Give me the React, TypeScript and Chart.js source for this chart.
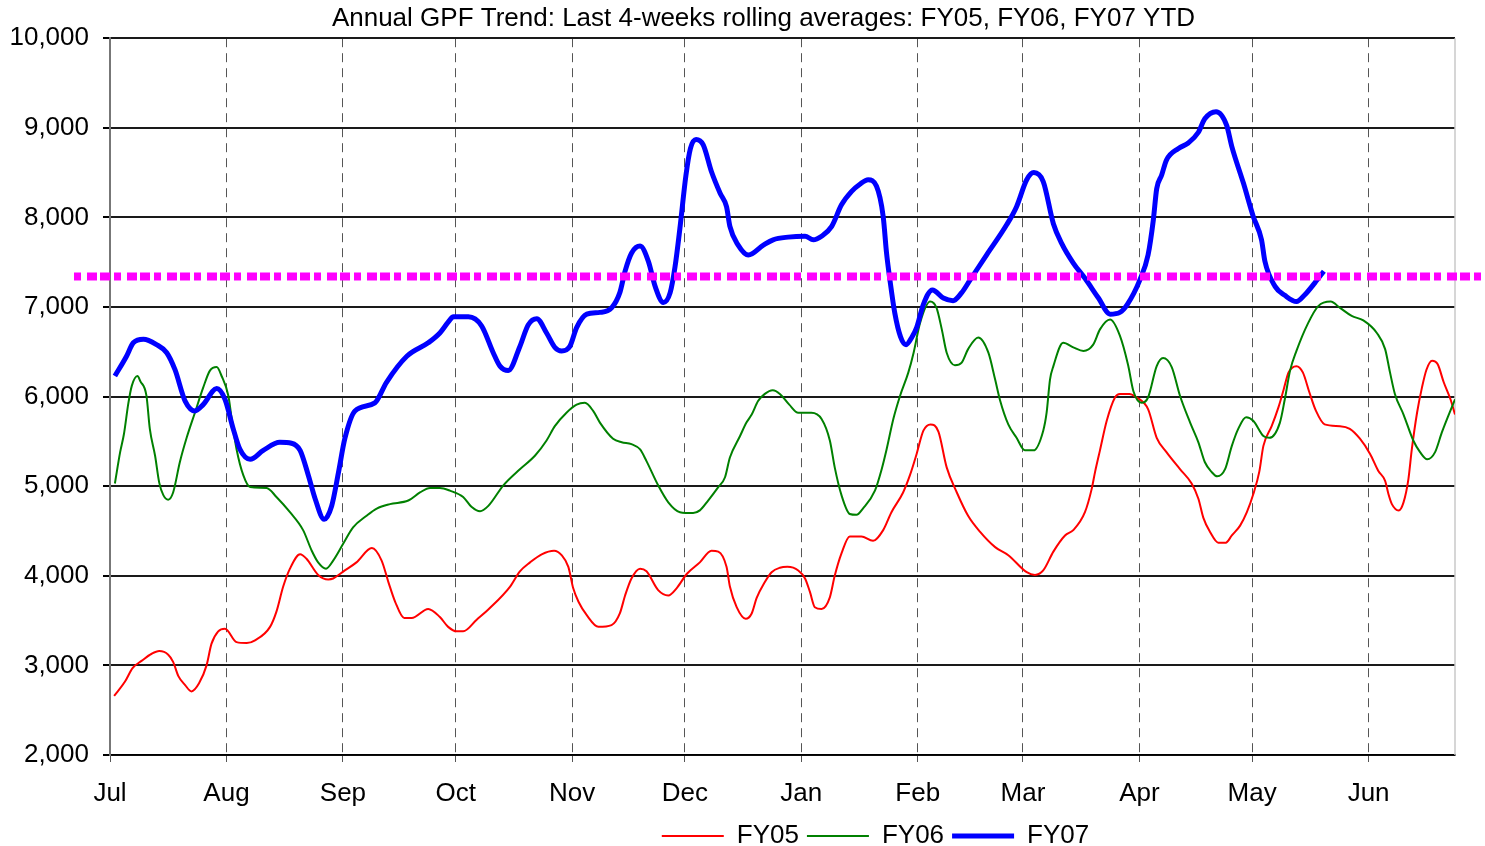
import { useEffect, useRef } from "react";
import { Chart, registerables } from "chart.js";

Chart.register(...registerables);

const chartTitle = "Annual GPF Trend: Last 4-weeks rolling averages: FY05, FY06, FY07 YTD";
const monthLabels = ["Jul", "Aug", "Sep", "Oct", "Nov", "Dec", "Jan", "Feb", "Mar", "Apr", "May", "Jun"];
const monthStartDays = [0, 31, 62, 92, 123, 153, 184, 215, 243, 274, 304, 335];
const lastDay = 358;
const targetLevel = 7340;

const fy05Days = [1.1, 4, 6, 8.4, 11.1, 13.1, 15.5, 16.8, 18.2, 20, 21.7, 23.7, 25.7, 27, 28.8, 30.6, 33.7, 36.4, 38.6, 42.6, 44.3, 46.1, 47.9, 50.6, 52.3, 55.4, 58.1, 59.4, 62.5, 65.6, 69.7, 72.3, 74.1, 75.9, 78.3, 80.3, 84.7, 87.8, 90, 92.3, 94, 97.6, 101.1, 106.5, 109.1, 111.8, 114.9, 118.2, 120.2, 122, 123.3, 124.7, 126.9, 130, 133.5, 135.7, 137.1, 138.8, 141.1, 142.8, 145.9, 148.6, 150.8, 153.5, 157, 160.1, 161.9, 164.1, 165, 166.8, 169.2, 170.8, 172.1, 174.3, 176.1, 178.3, 180.3, 183.2, 185, 186.3, 187.6, 189.4, 191.6, 192.9, 194.7, 196.9, 200, 203.1, 205.8, 208, 211.1, 212.9, 214.7, 216.5, 218.4, 220.5, 222.7, 225.4, 228.4, 231.6, 235.6, 239.1, 244, 246.2, 248.4, 251.1, 254.2, 256.4, 259.5, 261.3, 262.2, 263.5, 265.3, 267.5, 268.8, 271.3, 273.3, 276.3, 278.6, 281.2, 284.8, 287.9, 289.7, 291, 292.8, 295, 297, 298.6, 300.8, 302.6, 304.3, 305.9, 307, 309.2, 311, 312.4, 313.7, 315.8, 317.5, 319.3, 321, 323.3, 327.4, 330, 332.7, 335.4, 337.6, 339.4, 340.3, 341.2, 343, 344.3, 345.6, 346.5, 347.9, 349.2, 350.4, 351.9, 353.4, 355, 356.8, 358];
const fy05Values = [2660, 2820, 2970, 3050, 3130, 3160, 3120, 3040, 2880, 2780, 2710, 2800, 3000, 3240, 3380, 3410, 3260, 3250, 3280, 3430, 3600, 3880, 4080, 4240, 4190, 4010, 3960, 3970, 4060, 4150, 4310, 4170, 3930, 3710, 3530, 3530, 3630, 3540, 3430, 3380, 3380, 3510, 3640, 3880, 4050, 4150, 4240, 4280, 4230, 4100, 3860, 3710, 3560, 3430, 3450, 3580, 3780, 3970, 4080, 4050, 3840, 3780, 3860, 4020, 4150, 4280, 4270, 4100, 3880, 3650, 3520, 3580, 3750, 3930, 4040, 4090, 4100, 4060, 3970, 3820, 3650, 3630, 3760, 4000, 4250, 4440, 4440, 4390, 4510, 4710, 4930, 5120, 5360, 5620, 5690, 5610, 5210, 4930, 4670, 4490, 4320, 4230, 4040, 4010, 4060, 4270, 4450, 4510, 4710, 4970, 5160, 5400, 5730, 5990, 6030, 6030, 5990, 5860, 5540, 5380, 5190, 5030, 4860, 4650, 4490, 4370, 4370, 4450, 4560, 4710, 4910, 5160, 5450, 5670, 5880, 6080, 6270, 6340, 6270, 6040, 5840, 5690, 5670, 5640, 5530, 5360, 5170, 5060, 4910, 4800, 4730, 4820, 5080, 5410, 5820, 6100, 6300, 6400, 6360, 6160, 5970, 5800];

const fy06Days = [1.3, 2.7, 3.7, 4.9, 5.8, 7.3, 8.1, 9.7, 10.6, 12, 13.1, 14.2, 15.5, 16.8, 18.6, 20.4, 22.6, 24.8, 26.6, 28.4, 29.7, 31.5, 32.4, 33.7, 35.5, 37.3, 41.7, 44.3, 47.9, 51.4, 53.7, 55.4, 57.5, 59.4, 62.1, 64.7, 68.3, 71, 74.5, 79.4, 82.5, 85.2, 87.8, 90.5, 94, 96.2, 98.5, 100.7, 104.7, 109.1, 113.1, 116.2, 118.4, 121.5, 124.2, 126.4, 128.6, 130.4, 133.9, 136.2, 138.8, 141.1, 142.8, 145.9, 148.6, 151.7, 155.2, 157, 159.2, 161.9, 163.7, 165, 167.7, 169.4, 170.8, 172.5, 174.3, 176.4, 178.3, 180.8, 183.2, 186.7, 189.4, 191.6, 192.9, 194.7, 196.9, 198.7, 200.4, 203.6, 205.4, 206.7, 208.5, 210.3, 212.5, 213.9, 215.6, 218.3, 220, 221.4, 222.7, 224.9, 226.7, 228.4, 231.1, 233.8, 235.6, 236.9, 239.1, 241.3, 243.5, 245.8, 248.4, 249.3, 250.2, 251.1, 253.7, 256.4, 259.1, 261.7, 263.5, 266.2, 268.8, 271, 272.4, 274.6, 276.3, 278.6, 280.3, 282.6, 284.8, 287.5, 289.7, 291.4, 293.2, 294.7, 296.8, 298.6, 300.3, 302.4, 304.3, 307, 308.6, 311.4, 312.7, 314.1, 315.8, 318.9, 321.6, 324.9, 327.4, 330.5, 333.6, 337.2, 339.4, 340.7, 342, 344.3, 346.9, 348.7, 350.6, 352.7, 354.5, 358];
const fy06Values = [5030, 5380, 5580, 5930, 6120, 6230, 6170, 6010, 5640, 5340, 5040, 4900, 4850, 4930, 5270, 5540, 5820, 6100, 6290, 6330, 6230, 6010, 5750, 5410, 5120, 4990, 4980, 4880, 4710, 4510, 4280, 4150, 4080, 4170, 4360, 4540, 4670, 4750, 4800, 4840, 4930, 4980, 4980, 4950, 4880, 4770, 4720, 4780, 5010, 5190, 5340, 5510, 5670, 5820, 5910, 5930, 5840, 5710, 5530, 5490, 5470, 5410, 5280, 5010, 4820, 4710, 4700, 4730, 4840, 4990, 5100, 5320, 5560, 5710, 5800, 5950, 6030, 6070, 6030, 5910, 5820, 5820, 5750, 5510, 5210, 4900, 4690, 4680, 4750, 4950, 5190, 5410, 5750, 6010, 6270, 6490, 6820, 7060, 6990, 6750, 6490, 6350, 6380, 6530, 6660, 6490, 6190, 5960, 5690, 5540, 5400, 5400, 5620, 5820, 6190, 6340, 6600, 6550, 6510, 6580, 6750, 6860, 6680, 6350, 6060, 5930, 5990, 6340, 6430, 6330, 6010, 5710, 5490, 5270, 5160, 5110, 5190, 5450, 5640, 5770, 5730, 5560, 5540, 5710, 5970, 6290, 6510, 6820, 7010, 7060, 6990, 6900, 6850, 6710, 6530, 6270, 6030, 5800, 5510, 5380, 5300, 5380, 5600, 5970];

const fy07Days = [1.3, 4.4, 6.2, 8.9, 12.4, 15.1, 17.3, 20, 22.6, 24.8, 28.4, 30.6, 32.8, 34.6, 37.3, 40.8, 45.2, 48.3, 50.6, 52.8, 54.6, 57, 59, 60.8, 62.5, 65.2, 70.5, 73.6, 79, 84.7, 87.8, 90, 91.4, 95.4, 98.9, 102, 103.8, 106, 109.1, 111.3, 113.6, 116.2, 118.4, 120.2, 122.4, 124.2, 126.9, 130.4, 133.5, 135.7, 137.1, 138.8, 141.1, 143.3, 145.1, 147.3, 149.1, 150.4, 151.7, 153.3, 154.5, 156, 157.9, 160.1, 162.4, 164.1, 165, 167.2, 169.9, 173.9, 176.5, 180.5, 185, 187.2, 189.4, 192.1, 194.7, 197.4, 199.6, 201.8, 204, 205.8, 206.7, 207.6, 208.9, 210.4, 211.9, 213.4, 214.7, 216.5, 218.9, 221.8, 224.4, 226.7, 228.9, 233.3, 238.7, 241.3, 244, 245.9, 248.4, 251.1, 253.3, 256.4, 259.5, 263.1, 266.2, 268.8, 270.8, 274.1, 276.3, 277.7, 278.6, 279.9, 281.2, 284.4, 287, 289.7, 291.4, 294.4, 297.2, 298.6, 301.7, 304.3, 306.5, 307.4, 310.1, 312.7, 315.8, 318.1, 320.7, 323.1];
const fy07Values = [6230, 6450, 6600, 6640, 6580, 6490, 6300, 5950, 5840, 5910, 6090, 5970, 5640, 5410, 5300, 5400, 5490, 5480, 5400, 5120, 4860, 4630, 4780, 5150, 5530, 5840, 5930, 6160, 6450, 6600, 6710, 6830, 6890, 6890, 6790, 6490, 6340, 6290, 6560, 6800, 6870, 6710, 6550, 6510, 6560, 6770, 6920, 6940, 6990, 7160, 7400, 7600, 7680, 7510, 7230, 7050, 7160, 7450, 7880, 8470, 8770, 8870, 8810, 8510, 8270, 8120, 7900, 7690, 7580, 7690, 7750, 7780, 7790, 7750, 7790, 7900, 8140, 8290, 8370, 8420, 8350, 8010, 7600, 7300, 6930, 6670, 6580, 6660, 6770, 7030, 7190, 7100, 7070, 7160, 7300, 7580, 7920, 8120, 8420, 8500, 8400, 7930, 7710, 7490, 7320, 7100, 6920, 6940, 7030, 7300, 7580, 7970, 8320, 8470, 8640, 8770, 8830, 8950, 9100, 9180, 9030, 8790, 8380, 8010, 7750, 7510, 7230, 7130, 7060, 7140, 7270, 7400];

const FONT = "'Liberation Sans', Arial, Helvetica, sans-serif";
const TITLE_SHIFT = 36;
const LEGEND_SHIFT = 148;

const toPoints = (days: number[], values: number[]) => days.map((d, i) => ({ x: d, y: values[i] }));

const targetLinePlugin = {
  id: "targetLine",
  afterLayout(chart: any) {
    if (chart.titleBlock) {
      chart.titleBlock.left += TITLE_SHIFT;
      chart.titleBlock.right += TITLE_SHIFT;
    }
    if (chart.legend) {
      chart.legend.left += LEGEND_SHIFT;
      chart.legend.right += LEGEND_SHIFT;
    }
  },
  beforeDatasetsDraw(chart: any) {
    const { ctx, chartArea } = chart;
    ctx.save();
    ctx.strokeStyle = "#c8c8c8";
    ctx.lineWidth = 1.5;
    ctx.beginPath();
    ctx.moveTo(chartArea.right, chartArea.top);
    ctx.lineTo(chartArea.right, chartArea.bottom);
    ctx.stroke();
    ctx.restore();
  },
  afterDatasetsDraw(chart: any) {
    const { ctx, chartArea, scales } = chart;
    const y = scales.y.getPixelForValue(targetLevel);
    ctx.save();
    ctx.strokeStyle = "#ff00ff";
    ctx.lineWidth = 8;
    ctx.lineCap = "butt";
    ctx.setLineDash([7, 6, 10, 3, 10, 4]);
    ctx.beginPath();
    ctx.moveTo(chartArea.left - 36, y);
    ctx.lineTo(chart.width, y);
    ctx.stroke();
    ctx.restore();
  },
};

export default function App() {
  const canvasRef = useRef<HTMLCanvasElement | null>(null);

  useEffect(() => {
    if (!canvasRef.current) return;
    const chart = new Chart(canvasRef.current, {
      type: "line",
      data: {
        datasets: [
          {
            label: "FY05",
            data: toPoints(fy05Days, fy05Values),
            borderColor: "#ff0000",
            backgroundColor: "#ff0000",
            borderWidth: 2,
            pointRadius: 0,
            cubicInterpolationMode: "monotone",
            order: 2,
          },
          {
            label: "FY06",
            data: toPoints(fy06Days, fy06Values),
            borderColor: "#008000",
            backgroundColor: "#008000",
            borderWidth: 2,
            pointRadius: 0,
            cubicInterpolationMode: "monotone",
            order: 1,
          },
          {
            label: "FY07",
            data: toPoints(fy07Days, fy07Values),
            borderColor: "#0000ff",
            backgroundColor: "#0000ff",
            borderWidth: 5,
            pointRadius: 0,
            cubicInterpolationMode: "monotone",
            order: 0,
          },
        ],
      },
      options: {
        responsive: false,
        animation: false,
        events: [],
        layout: { padding: { left: 0, right: 30, top: 0, bottom: -13 } },
        plugins: {
          title: {
            display: true,
            text: chartTitle,
            color: "#000",
            font: { family: FONT, size: 26, weight: "normal" },
            padding: { top: 3, bottom: 4 },
          },
          legend: {
            position: "bottom",
            labels: {
              usePointStyle: true,
              pointStyle: "line",
              pointStyleWidth: 62,
              color: "#000",
              font: { family: FONT, size: 26 },
              padding: 8,
              sort: (a: any, b: any) => a.datasetIndex - b.datasetIndex,
            },
          },
          tooltip: { enabled: false },
        },
        scales: {
          x: {
            type: "linear",
            min: 0,
            max: lastDay,
            afterBuildTicks: (scale: any) => {
              scale.ticks = monthStartDays.map((v) => ({ value: v }));
            },
            afterFit: (scale: any) => {
              scale.height = 60;
            },
            ticks: {
              autoSkip: false,
              maxRotation: 0,
              color: "#000",
              font: { family: FONT, size: 26 },
              padding: 16,
              callback: (_v: any, i: number) => monthLabels[i],
            },
            grid: {
              color: "#555",
              lineWidth: 1,
              tickLength: 7,
              tickColor: "#555",
            },
            border: { display: true, color: "#000", width: 1.5, dash: [9, 6] },
          },
          y: {
            min: 2000,
            max: 10000,
            afterFit: (scale: any) => {
              scale.width = 110;
            },
            ticks: {
              stepSize: 1000,
              color: "#000",
              font: { family: FONT, size: 26 },
              padding: 14,
              callback: (v: any) => Number(v).toLocaleString("en-US"),
            },
            grid: {
              color: "#1a1a1a",
              lineWidth: 2,
              tickLength: 7,
              tickColor: "#000",
            },
            border: { display: true, color: "#777", width: 2 },
          },
        },
      },
      plugins: [targetLinePlugin],
    });
    return () => chart.destroy();
  }, []);

  return (
    <div style={{ position: "absolute", left: 0, top: 0, width: 1485, height: 846, background: "#fff" }}>
      <canvas ref={canvasRef} width={1485} height={846} style={{ display: "block" }} />
    </div>
  );
}
